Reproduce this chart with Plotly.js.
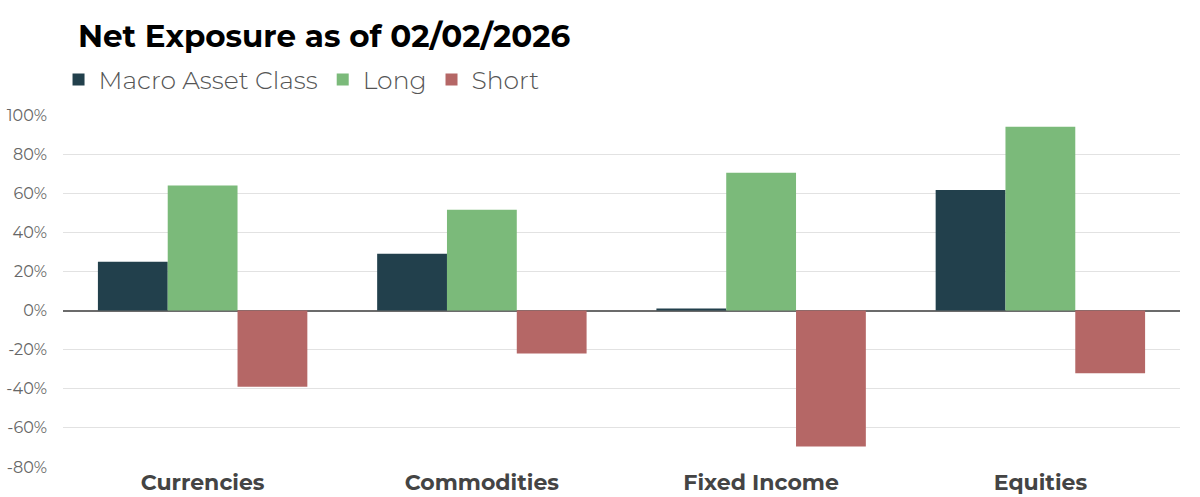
<!DOCTYPE html>
<html>
<head>
<meta charset="utf-8">
<script src="https://cdn.plot.ly/plotly-3.0.1.min.js"></script>
<style>html,body{margin:0;padding:0;background:#fff;}#chart{width:1200px;height:497px;}</style>
</head>
<body>
<div id="chart"></div>
<script>
const categories = ["Currencies", "Commodities", "Fixed Income", "Equities"];
const macroValues = [0.25, 0.29, 0.01, 0.617];
const longValues = [0.64, 0.515, 0.705, 0.94];
const shortValues = [-0.39, -0.22, -0.695, -0.32];
const tickValues = [-0.8, -0.6, -0.4, -0.2, 0, 0.2, 0.4, 0.6, 0.8, 1.0];
const tickLabels = ["-80%", "-60%", "-40%", "-20%", "0%", "20%", "40%", "60%", "80%", "100%"];

const FONT = "Montserrat, 'DejaVu Sans', sans-serif";

const traces = [
  {type: "bar", name: "Macro Asset Class", x: categories, y: macroValues, marker: {color: "#22404c"}},
  {type: "bar", name: "Long", x: categories, y: longValues, marker: {color: "#7bba7a"}},
  {type: "bar", name: "Short", x: categories, y: shortValues, marker: {color: "#b56766"}}
];

const layout = {
  width: 1200, height: 497,
  margin: {l: 63, r: 20, t: 115, b: 30},
  paper_bgcolor: "#fff", plot_bgcolor: "#fff",
  barmode: "group", bargap: 0.25, bargroupgap: 0,
  showlegend: true,
  title: {text: "<b>Net Exposure as of 02/02/2026</b>", x: 0.065, xanchor: "left", y: 0.928, yanchor: "middle",
          font: {family: FONT, size: 31, color: "#000"}},
  legend: {orientation: "h", x: -0.004, xanchor: "left", y: 1.10, yanchor: "middle",
           font: {family: FONT, size: 25, color: "#555", weight: 300}, itemwidth: 30, traceorder: "normal"},
  xaxis: {type: "category", tickfont: {family: FONT, size: 22, color: "#444", weight: "bold"},
          showgrid: false, ticks: "", showline: false, zeroline: false},
  yaxis: {range: [-0.8, 1.0], tickvals: tickValues, ticktext: tickLabels,
          tickfont: {family: FONT, size: 16, color: "#666"},
          showgrid: true, gridcolor: "#e2e2e2", gridwidth: 1,
          zeroline: true, zerolinecolor: "#6b6b6b", zerolinewidth: 2,
          ticklabelstandoff: 15, fixedrange: true}
};

Plotly.newPlot("chart", traces, layout, {staticPlot: true, displayModeBar: false});
</script>
</body>
</html>
